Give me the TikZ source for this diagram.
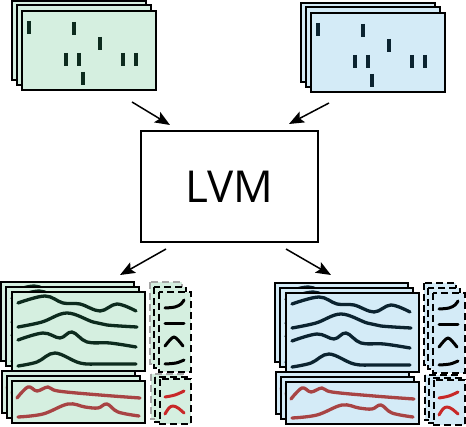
\documentclass[tikz,border=0pt]{standalone}
\usepackage{fontspec}
\newfontfamily\lvmfont{Open Sans}
\usetikzlibrary{arrows.meta}
\definecolor{gfill}{HTML}{D5EFE0}
\definecolor{bfill}{HTML}{D4EBF7}
\definecolor{gink}{HTML}{0D2B1E}
\definecolor{bink}{HTML}{0B2330}
\definecolor{rink}{HTML}{A84444}
\definecolor{rbright}{HTML}{C82828}
\tikzset{
  panel/.style={draw=black, line width=1.4pt},
  barmark/.style={line width=4pt},
  wave/.style={line width=3.3pt, line cap=round, line join=round},
  shortwave/.style={line width=3pt, line cap=round, line join=round},
  dbox/.style={dashed, line width=1.1pt, dash pattern=on 7pt off 4pt},
  flow/.style={line width=1.5pt, -{Stealth[length=15pt,width=12pt,inset=3pt]}},
  lvmbox/.style={draw=black, line width=1.3pt, fill=white, minimum width=177pt,
    minimum height=111pt, inner sep=0pt, font=\lvmfont\fontsize{44}{48}\selectfont},
}
\newcommand\topstack[4]{%
  \begin{scope}[shift={(#1,#2)}]
    \draw[panel,fill=#3] (12,1) rectangle (146,80);
    \draw[panel,fill=#3] (17,5) rectangle (151,85);
    \draw[panel,fill=#3] (22,11) rectangle (156,90);
    \foreach \bx/\by in {29/21, 74/22, 100/37, 66/53, 79/53, 123/53, 136/53, 83/72}
      \draw[#4, barmark] (\bx,\by) -- ++(0,13);
  \end{scope}}
\newcommand\wavepanel[4]{%
  \begin{scope}[shift={(#1,#2)}]
    \draw[panel,fill=#3] (0,0) rectangle (133,79);
    \draw[wave,#4] plot[smooth, tension=0.6] coordinates {(6,11) (33,4) (51,11) (68,12) (88,19) (105,12) (124,19)};
    \draw[wave,#4] plot[smooth, tension=0.6] coordinates {(6,35) (30,30) (55,21) (81,30) (95,33) (125,35)};
    \draw[wave,#4] plot[smooth, tension=0.6] coordinates {(6,48) (31,41) (48,46) (60,40) (75,50) (98,51) (124,55)};
    \draw[wave,#4] plot[smooth, tension=0.6] coordinates {(6,74) (25,70) (43,61) (68,71) (90,72) (124,72)};
  \end{scope}}
\newcommand\redpanel[3]{%
  \begin{scope}[shift={(#1,#2)}]
    \draw[panel,fill=#3] (0,0) rectangle (133,42);
    \draw[wave,rink] plot[smooth, tension=0.6] coordinates {(5,17) (16,6) (25,10) (36,6) (46,10) (88,14) (128,17)};
    \draw[wave,rink] plot[smooth, tension=0.6] coordinates {(6,36) (31,33) (56,23) (73,26) (86,27) (95,23) (106,31) (127,35)};
  \end{scope}}
\newcommand\bottomgroup[5]{%
  \begin{scope}[shift={(#1,#2)}]
    \wavepanel{1}{282}{#3}{#4}
    \wavepanel{6}{287}{#3}{#4}
    \wavepanel{12}{292}{#3}{#4}
    \redpanel{2}{371}{#3}
    \redpanel{7}{376}{#3}
    \redpanel{12}{381}{#3}
    \draw[dbox,draw=#5,fill=#3] (150,282) rectangle (182,364);
    \draw[dbox,draw=black,fill=#3] (154,287) rectangle (186,368);
    \draw[dbox,draw=black,fill=#3] (159,292) rectangle (191,372);
    \draw[dbox,draw=#5,fill=#3] (151,374) rectangle (183,419);
    \draw[dbox,draw=black,fill=#3] (155,377) rectangle (187,422);
    \draw[dbox,draw=black,fill=#3] (160,379) rectangle (191,424);
    \draw[shortwave,black] plot[smooth, tension=0.6] coordinates {(165,308) (175,307) (181,304) (184,300)};
    \draw[shortwave,black] (165,324) -- (184,324);
    \draw[shortwave,black] plot[smooth, tension=0.6] coordinates {(165,346) (170,340) (174,337) (178,340) (183,346)};
    \draw[shortwave,black] plot[smooth, tension=0.6] coordinates {(165,364) (176,363) (184,360)};
    \draw[shortwave,rbright] plot[smooth, tension=0.6] coordinates {(165,397) (175,395) (184,391)};
    \draw[shortwave,rbright] plot[smooth, tension=0.6] coordinates {(165,414) (169,408) (173,406) (178,408) (184,413)};
  \end{scope}}
\begin{document}
\begin{tikzpicture}[x=1pt, y=-1pt]
  \useasboundingbox (0,0) rectangle (466,427);
  \topstack{0}{0}{gfill}{gink}
  \topstack{289}{2}{bfill}{bink}
  \bottomgroup{0}{0}{gfill}{gink}{black!35}
  \bottomgroup{274}{1}{bfill}{bink}{black}
  \node[lvmbox] (lvm) at (229.5,186.5) {LVM};
  \coordinate (tlfrom) at (132,102);
  \coordinate (tlto) at (170,125);
  \coordinate (trfrom) at (329,103);
  \coordinate (trto) at (289,124);
  \coordinate (blfrom) at (166,249);
  \coordinate (blto) at (120,275);
  \coordinate (brfrom) at (286,249);
  \coordinate (brto) at (331,275);
  \draw[flow] (tlfrom) -- (tlto);
  \draw[flow] (trfrom) -- (trto);
  \draw[flow] (blfrom) -- (blto);
  \draw[flow] (brfrom) -- (brto);
\end{tikzpicture}
\end{document}
